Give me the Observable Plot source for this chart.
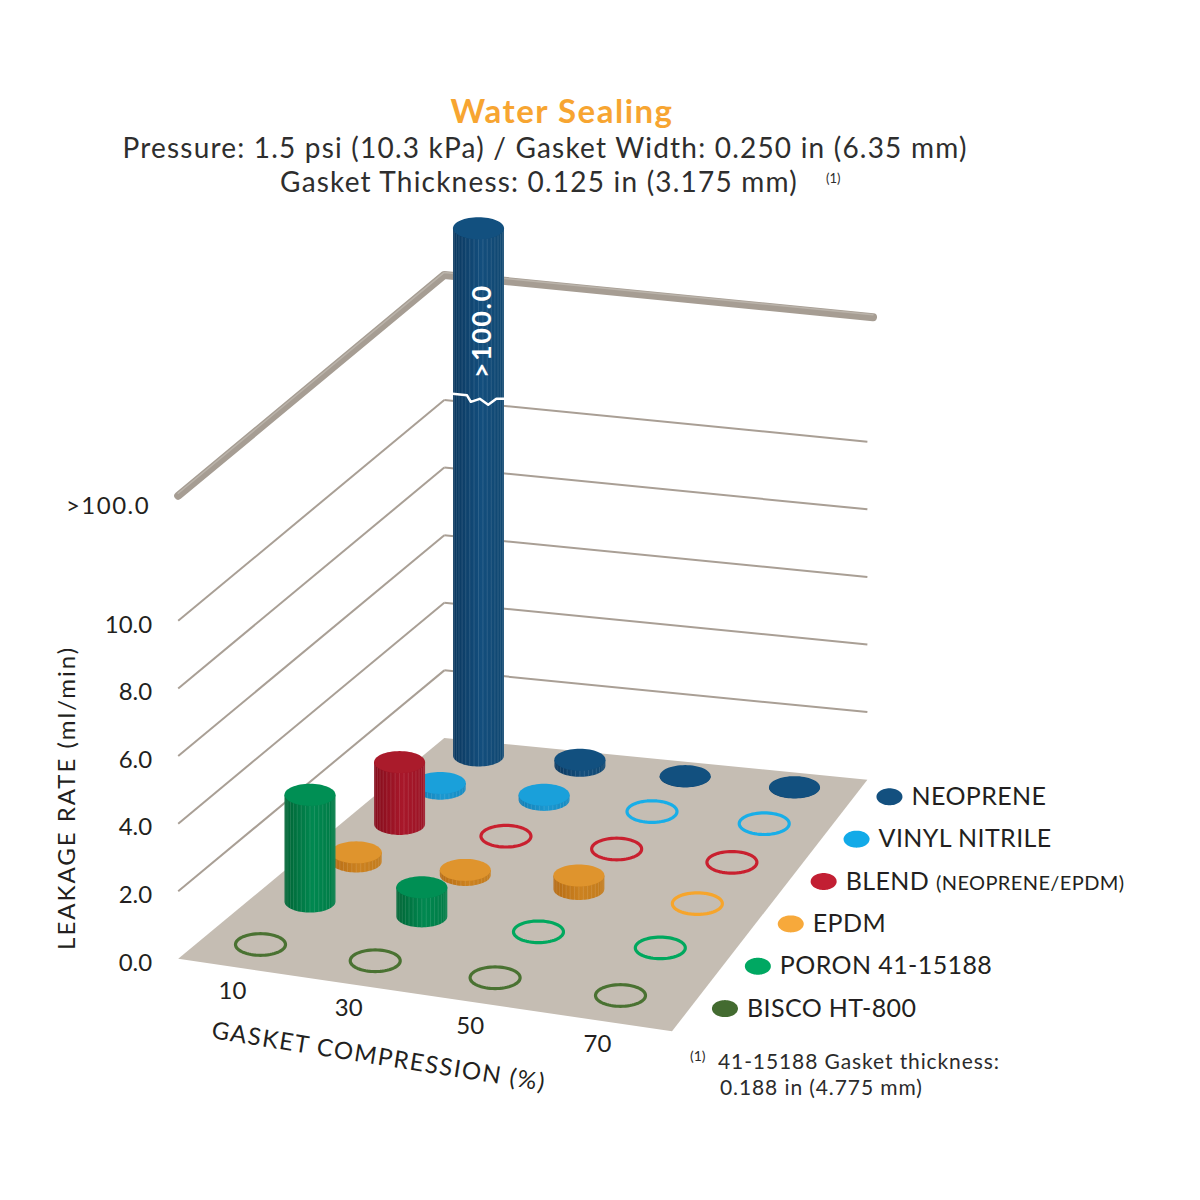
<!DOCTYPE html>
<html>
<head>
<meta charset="utf-8">
<script src="https://cdn.jsdelivr.net/npm/d3@7"></script>
<script src="https://cdn.jsdelivr.net/npm/@observablehq/plot@0.6"></script>
<style>
  html, body { margin: 0; padding: 0; background: #fff; }
  #wrap { position: relative; width: 1200px; height: 1200px; font-family: Lato, "Open Sans", sans-serif; color: #2b2b2b; }
  #head { position: relative; width: 1200px; height: 200px; }
  .t { position: absolute; white-space: nowrap; transform: translate(-50%, -50%); }
  .l { position: absolute; white-space: nowrap; transform: translate(0, -50%); }
  #title { left: 562px; top: 110px; font-size: 33px; letter-spacing: 1.5px; font-weight: bold; color: #f7a531; }
  #sub1 { left: 545px; top: 147px; font-size: 28px; letter-spacing: 1.2px; color: #2e2e2e; }
  #sub2 { left: 539px; top: 181px; font-size: 28px; letter-spacing: 1.2px; color: #2e2e2e; }
  #sup1 { left: 826px; top: 178px; font-size: 13px; color: #2e2e2e; }
  #fn0 { left: 690px; top: 1055px; font-size: 14px; color: #2b2b2b; }
  #fn1 { left: 718px; top: 1060px; font-size: 21px; letter-spacing: 0.9px; color: #2b2b2b; }
  #fn2 { left: 720px; top: 1086px; font-size: 21px; letter-spacing: 0.9px; color: #2b2b2b; }
  #chart svg { display: block; }
</style>
</head>
<body>
<div id="wrap">
  <div id="head">
    <div class="t" id="title">Water Sealing</div>
    <div class="t" id="sub1">Pressure: 1.5 psi (10.3 kPa) / Gasket Width: 0.250 in (6.35 mm)</div>
    <div class="t" id="sub2">Gasket Thickness: 0.125 in (3.175 mm)</div>
    <div class="l" id="sup1">(1)</div>
  </div>
  <div id="chart"></div>
  <div class="l" id="fn0">(1)</div>
  <div class="l" id="fn1">41-15188 Gasket thickness:</div>
  <div class="l" id="fn2">0.188 in (4.775 mm)</div>
</div>
<script>
// ---------------- DATA ----------------
const compressions = [10, 30, 50, 70];            // GASKET COMPRESSION (%)
const materials = ["NEOPRENE", "VINYL NITRILE", "BLEND (NEOPRENE/EPDM)", "EPDM", "PORON 41-15188", "BISCO HT-800"];
// leakage rate (ml/min) per compression, one array per material
const neoprene     = [">100.0", 0.18, 0.01, 0.01];
const vinylNitrile = [0.17, 0.15, 0, 0];
const blend        = [1.83, 0, 0, 0];
const epdm         = [0.27, 0.15, 0.40, 0];
const poron        = [3.16, 0.86, 0, 0];
const bisco        = [0, 0, 0, 0];
const yTicks = [0, 2, 4, 6, 8, 10];
const yTickLabels = ["0.0", "2.0", "4.0", "6.0", "8.0", "10.0"];
const overLabel = ">100.0";
const series = [neoprene, vinylNitrile, blend, epdm, poron, bisco];

// ---------------- STYLE ----------------
const palette = [
  {top: "#12507f", side: ["#0a375e", "#134e7d", "#104770"], legend: "#13507f", ring: "#13507f"},
  {top: "#1aa0da", side: ["#137db3", "#1b98d0", "#1689c0"], legend: "#12aae8", ring: "#18aee8"},
  {top: "#aa1b2b", side: ["#840c1b", "#a8172a", "#9a1425"], legend: "#c21f33", ring: "#c9202f"},
  {top: "#df942d", side: ["#b56b14", "#cc8220", "#c17a1c"], legend: "#f7a93b", ring: "#f6a52c"},
  {top: "#008f54", side: ["#006435", "#008850", "#007a45"], legend: "#00a862", ring: "#00a85e"},
  {top: "#466f30", side: ["#2f5020", "#466f30", "#3c6229"], legend: "#436b30", ring: "#4a7232"}
];

// ---------------- PROJECTION (pseudo-3D) ----------------
// cell grid (u = compression index, v = material row) -> page pixels
function fitHomography(pts) {
  const A = [], b = [];
  for (const [u, v, x, y] of pts) {
    A.push([u, v, 1, 0, 0, 0, -u * x, -v * x]); b.push(x);
    A.push([0, 0, 0, u, v, 1, -u * y, -v * y]); b.push(y);
  }
  const n = 8;
  for (let i = 0; i < n; i++) {
    let p = i;
    for (let r = i + 1; r < n; r++) if (Math.abs(A[r][i]) > Math.abs(A[p][i])) p = r;
    [A[i], A[p]] = [A[p], A[i]]; [b[i], b[p]] = [b[p], b[i]];
    for (let r = 0; r < n; r++) {
      if (r === i) continue;
      const f = A[r][i] / A[i][i];
      for (let c = i; c < n; c++) A[r][c] -= f * A[i][c];
      b[r] -= f * b[i];
    }
  }
  const h = b.map((v, i) => v / A[i][i]);
  return (u, v) => {
    const w = h[6] * u + h[7] * v + 1;
    return [(h[0] * u + h[1] * v + h[2]) / w, (h[3] * u + h[4] * v + h[5]) / w];
  };
}
const H = fitHomography([[0, 0, 478, 755], [3, 0, 794, 787], [0, 5, 260, 944], [3, 5, 620, 995]]);
const K = 33.8;                   // px per display unit of height
const U0 = -0.5, U1 = 3.55, V0 = -0.4, V1 = 5.5;   // floor extent
const OVER = 13.7;                // display level of ">100.0"
const COL_TOP = OVER + 1.9;       // display height of the over-range column
const BREAK = 10.7;               // level of the break mark
const P = (u, v, h = 0) => { const [x, y] = H(u, v); return {x, y: y - K * h}; };

const RX = 25.5, RY = 11;

function ellipsePts(cx, cy, rx, ry, n = 64) {
  return d3.range(n + 1).map(k => { const t = 2 * Math.PI * k / n; return {x: cx + rx * Math.cos(t), y: cy + ry * Math.sin(t)}; });
}
function bodyPts(cx, cy, rx, ry, hpx) {
  const pts = [{x: cx - rx, y: cy - hpx}];
  for (let k = 0; k <= 40; k++) { const t = Math.PI - Math.PI * k / 40; pts.push({x: cx + rx * Math.cos(t), y: cy + ry * Math.sin(t)}); }
  pts.push({x: cx + rx, y: cy - hpx});
  return pts;
}
function stripes(cx, cy, rx, ry, hpx, n = 18) {
  return d3.range(1, n).map(k => {
    const t = Math.PI * k / n, x = cx - rx * Math.cos(t), yb = cy + ry * Math.sin(t);
    return {x1: x, y1: yb, x2: x, y2: yb - hpx};
  });
}

const XY = {x: "x", y: "y"};
const marks = [];

// walls: grid lines
const gridSegs = yTicks.filter(t => t > 0).flatMap(t => [
  {a: P(U0, V1, t), b: P(U0, V0, t)},
  {a: P(U0, V0, t), b: P(U1, V0, t)}
]);
marks.push(Plot.link(gridSegs, {x1: d => d.a.x, y1: d => d.a.y, x2: d => d.b.x, y2: d => d.b.y, stroke: "#a99f95", strokeWidth: 2}));
// top bar at ">100.0"
const barPts = [P(U0, V1, OVER), P(U0, V0, OVER), P(U1 + 0.05, V0, OVER)];
marks.push(Plot.line(barPts, {...XY, stroke: "#a69d93", strokeWidth: 8, strokeLinejoin: "round", strokeLinecap: "round"}));
marks.push(Plot.line(barPts, {...XY, stroke: "#bab3aa", strokeWidth: 1.5, dy: -2.5}));

// floor
marks.push(Plot.line([P(U0, V0), P(U1, V0), P(U1, V1), P(U0, V1), P(U0, V0)], {...XY, fill: "#c5bdb3", stroke: "none"}));

// y tick labels
marks.push(Plot.text(yTicks, {x: t => P(U0, V1, t).x, y: t => P(U0, V1, t).y, text: (t, i) => yTickLabels[i],
  textAnchor: "end", dx: -26, dy: 4, fontSize: 24}));
marks.push(Plot.text([overLabel], {x: () => P(U0, V1, OVER).x, y: () => P(U0, V1, OVER).y, text: d => d,
  textAnchor: "end", dx: -28, dy: 11, fontSize: 24}));
// x tick labels
marks.push(Plot.text(compressions, {x: (c, i) => P(i, V1).x, y: (c, i) => P(i, V1).y, text: d => String(d),
  dx: -2, dy: 24, fontSize: 24}));
// axis titles
marks.push(Plot.text(["GASKET COMPRESSION (%)"], {x: () => P(1.5, V1).x, y: () => P(1.5, V1).y, text: d => d,
  dx: -32, dy: 64, rotate: 9, fontSize: 24}));
marks.push(Plot.text(["LEAKAGE RATE (ml/min)"], {x: () => P(U0, V1, 5).x, y: () => P(U0, V1, 5).y, text: d => d,
  dx: -111, dy: 8, rotate: -90, fontSize: 24}));

// cells (back to front)
const cells = [];
series.forEach((vals, i) => vals.forEach((val, j) => cells.push({i, j, val})));
cells.sort((a, b) => a.i - b.i || a.j - b.j);
for (const c of cells) {
  const base = P(c.j, c.i);
  const over = typeof c.val === "string";
  const h = over ? COL_TOP : c.val;
  const pal = palette[c.i];
  if (!over && h === 0) {
    marks.push(Plot.line(ellipsePts(base.x, base.y, 25, 10.8), {...XY, stroke: pal.ring, strokeWidth: 3.2, fill: "none"}));
    continue;
  }
  const hpx = K * h;
  marks.push(Plot.line(bodyPts(base.x, base.y, RX, RY, hpx), {...XY, fill: `url(#side${c.i})`, stroke: "none"}));
  marks.push(Plot.link(stripes(base.x, base.y, RX, RY, hpx), {x1: "x1", y1: "y1", x2: "x2", y2: "y2",
    stroke: "#ffffff", strokeOpacity: 0.17, strokeWidth: 0.7}));
  marks.push(Plot.line(ellipsePts(base.x, base.y - hpx, RX, RY), {...XY, fill: pal.top, stroke: "none"}));
  if (over) {
    const bp = P(c.j, c.i, BREAK);
    const breakShape = [[-1.02, 0], [-0.45, 1.5], [-0.3, 8], [0.05, 5], [0.38, 11], [0.7, 5], [1.04, 5]];
    marks.push(Plot.line(breakShape.map(([a, b]) => ({x: bp.x + a * RX, y: bp.y + b})), {...XY, stroke: "#ffffff", strokeWidth: 2.5, fill: "none"}));
    const lp = P(c.j, c.i, 12.55);
    marks.push(Plot.text([c.val], {x: () => lp.x + 4, y: () => lp.y, text: d => d, rotate: -90, fill: "#ffffff",
      fontWeight: "bold", fontSize: 27}));
  }
}

// legend along the floor's right edge, evenly spaced between the back and front rows
const lgA = P(U1, 0), lgB = P(U1, materials.length - 1);
const legendDots = materials.map((m, i) => {
  const f = i / (materials.length - 1);
  return {m, i, x: lgA.x + (lgB.x - lgA.x) * f + 33, y: lgA.y + (lgB.y - lgA.y) * f + 3};
});
legendDots.forEach(d => {
  marks.push(Plot.line(ellipsePts(d.x, d.y, 13, 8.5), {...XY, fill: palette[d.i].legend, stroke: "none"}));
});
marks.push(Plot.text(legendDots, {x: "x", y: "y", text: d => d.m, dx: 22, textAnchor: "start",
  fontSize: 25, fill: "#231f20"}));

const svg = Plot.plot({
  width: 1200, height: 1000, margin: 0,
  x: {type: "linear", domain: [0, 1200], range: [0, 1200], axis: null},
  y: {type: "linear", domain: [200, 1200], range: [0, 1000], axis: null},
  style: {fontFamily: "Lato, 'Open Sans', sans-serif", fontSize: "24px", color: "#231f20", background: "transparent", overflow: "visible"},
  marks
});

// gradients for cylinder sides
const ns = "http://www.w3.org/2000/svg";
const defs = document.createElementNS(ns, "defs");
palette.forEach((p, i) => {
  const g = document.createElementNS(ns, "linearGradient");
  g.setAttribute("id", `side${i}`);
  g.setAttribute("x1", "0"); g.setAttribute("x2", "1"); g.setAttribute("y1", "0"); g.setAttribute("y2", "0");
  [[0, p.side[0]], [0.55, p.side[1]], [1, p.side[2]]].forEach(([o, col]) => {
    const s = document.createElementNS(ns, "stop");
    s.setAttribute("offset", o); s.setAttribute("stop-color", col);
    g.appendChild(s);
  });
  defs.appendChild(g);
});
svg.insertBefore(defs, svg.firstChild);

// typography touches: letter spacing and smaller parenthetical in legend labels
const spacing = {"GASKET COMPRESSION (%)": 1.5, "LEAKAGE RATE (ml/min)": 2, ">100.0": 1.5};
d3.select(svg).selectAll("text").each(function () {
  const t = this.textContent;
  if (spacing[t] != null) this.setAttribute("letter-spacing", spacing[t]);
  if (materials.includes(t)) {
    this.setAttribute("letter-spacing", 0.4);
    if (t.includes(" (")) {
      const k = t.indexOf(" (");
      this.textContent = t.slice(0, k) + " ";
      const ts = document.createElementNS(ns, "tspan");
      ts.setAttribute("font-size", "20");
      ts.textContent = t.slice(k + 1);
      this.appendChild(ts);
    }
  }
});

document.getElementById("chart").appendChild(svg);
</script>
</body>
</html>
